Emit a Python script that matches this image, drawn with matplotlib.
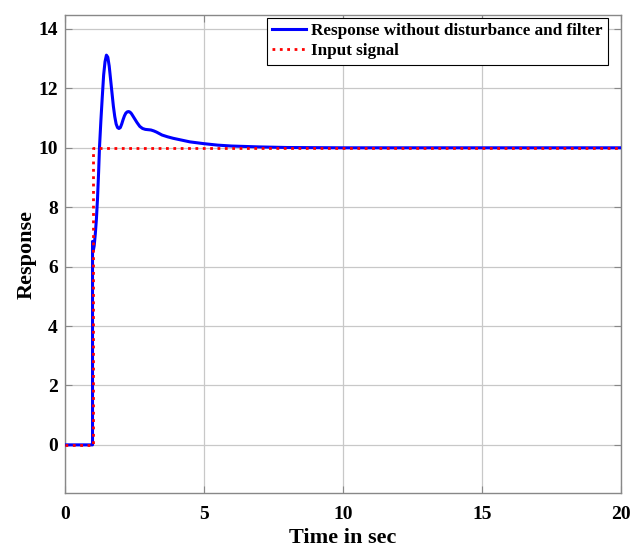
import matplotlib
matplotlib.use("Agg")
import matplotlib.pyplot as plt

# Data
t_resp = [0.0, 1.0, 1.0, 1.03, 1.06, 1.10, 1.14, 1.18, 1.22, 1.25, 1.30, 1.35, 1.37, 1.40,
          1.45, 1.50, 1.55, 1.60, 1.65, 1.70, 1.75, 1.80, 1.85, 1.90, 1.95, 2.00, 2.05,
          2.10, 2.15, 2.20, 2.25, 2.30, 2.35, 2.40, 2.50, 2.60, 2.70, 2.80, 2.90, 3.00,
          3.10, 3.20, 3.30, 3.40, 3.50, 3.70, 3.90, 4.20, 4.50, 5.00, 5.50, 6.00, 7.00,
          8.00, 10.0, 20.0]
y_resp = [0.0, 0.0, 6.85, 6.55, 6.7, 7.1, 7.6, 8.3, 9.2, 10.0, 10.9, 11.7, 12.0, 12.45,
          12.9, 13.12, 13.05, 12.75, 12.3, 11.85, 11.4, 11.05, 10.8, 10.68, 10.65, 10.68, 10.8,
          10.95, 11.08, 11.17, 11.21, 11.22, 11.2, 11.15, 11.0, 10.85, 10.72, 10.65, 10.62, 10.61,
          10.6, 10.57, 10.53, 10.48, 10.43, 10.37, 10.32, 10.26, 10.2, 10.14, 10.09, 10.06, 10.03,
          10.01, 10.0, 10.0]
t_in = [0.0, 1.0, 1.0, 20.0]
y_in = [0.0, 0.0, 10.0, 10.0]
x_ticks = [0, 5, 10, 15, 20]
y_ticks = [0, 2, 4, 6, 8, 10, 12, 14]

plt.rcParams['font.family'] = ['Liberation Serif', 'DejaVu Serif']
plt.rcParams['font.weight'] = 'bold'

fig = plt.figure(figsize=(6.42, 5.5), dpi=100)
ax = fig.add_axes([0.1008, 0.1031, 0.8662, 0.8696])

ax.plot(t_resp, y_resp, color='#0000ff', lw=2.2, label='Response without disturbance and filter', zorder=3)
ax.plot(t_in, y_in, color='#ff0000', lw=2.0, ls=':', label='Input signal', zorder=4)

ax.set_xlim(0, 20)
ax.set_ylim(-1.63, 14.47)
ax.set_xticks(x_ticks)
ax.set_yticks(y_ticks)
ax.grid(True, color='#c8c8c8', lw=0.9)
ax.set_axisbelow(True)
for s in ax.spines.values():
    s.set_color('#888888')
    s.set_linewidth(1.0)
ax.tick_params(direction='in', length=5, width=0.8, color='#888888', top=True, right=True,
               labelsize=14, labelcolor='black')
ax.tick_params(axis='y', pad=5)
ax.tick_params(axis='x', pad=9)
for lab in ax.get_xticklabels() + ax.get_yticklabels():
    lab.set_fontweight('bold')

ax.set_xlabel('Time in sec', fontsize=16, fontweight='bold', labelpad=4)
ax.set_ylabel('Response', fontsize=16, fontweight='bold', labelpad=1)

leg = ax.legend(loc='upper right', bbox_to_anchor=(0.977, 0.9937), borderaxespad=0.0,
                frameon=True, fancybox=False,
                edgecolor='black', framealpha=1, handlelength=2.0, handletextpad=0.3,
                borderpad=0.3, labelspacing=0.25,
                prop={'weight': 'bold', 'size': 12.3})
leg.get_frame().set_linewidth(0.8)

fig.savefig('out.png', dpi=100)
